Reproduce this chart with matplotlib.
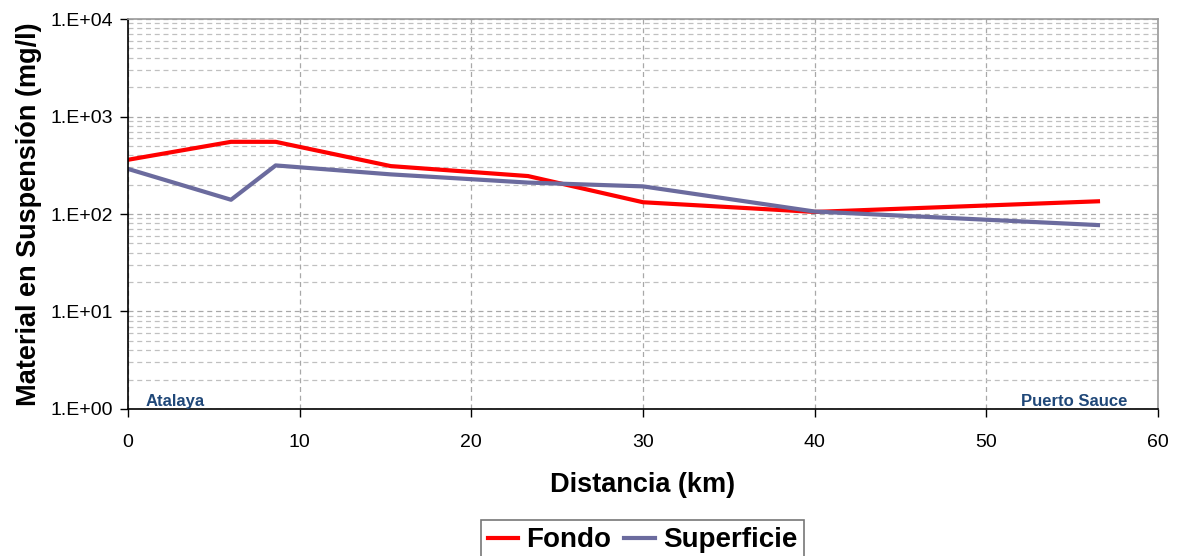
import matplotlib
matplotlib.use("Agg")
import matplotlib.pyplot as plt
from matplotlib.ticker import LogLocator

plt.rcParams['font.family'] = ['Liberation Sans', 'DejaVu Sans']

# distances along the river (km)
dist = [0, 6.0, 8.6, 15.3, 23.3, 30.0, 40.0, 56.5]
# suspended material (mg/l)
fondo = [360, 550, 550, 310, 245, 132, 105, 135]
superficie = [290, 140, 315, 255, 210, 192, 106, 77]

ytick_vals = [1, 10, 100, 1000, 10000]
ytick_labels = ['1.E+00', '1.E+01', '1.E+02', '1.E+03', '1.E+04']

fig = plt.figure(figsize=(11.8, 5.56), dpi=100)
ax = fig.add_axes([0.1085, 0.2644, 0.8729, 0.7014])

ax.plot(dist, fondo, color='#ff0000', lw=3, label='Fondo')
ax.plot(dist, superficie, color='#6b6b9e', lw=3, label='Superficie')

ax.set_yscale('log')
ax.set_ylim(1, 10000)
ax.set_xlim(0, 60)
ax.set_yticks(ytick_vals)
ax.set_yticklabels(ytick_labels)
ax.yaxis.set_minor_locator(LogLocator(base=10, subs=range(2, 10)))
ax.yaxis.set_minor_formatter(plt.NullFormatter())
ax.set_xticks(range(0, 61, 10))

ax.grid(True, which='major', axis='both', color='#a8a8a8', ls=(0, (4, 3)), lw=0.9)
ax.grid(True, which='minor', axis='y', color='#c0c0c0', ls=(0, (4, 3)), lw=0.9)
ax.tick_params(axis='y', which='minor', length=0)
ax.tick_params(axis='both', which='major', direction='out', length=6, width=1,
               labelsize=14, color='black')
ax.tick_params(axis='x', pad=12)
ax.tick_params(axis='y', pad=5)

for s in ['top', 'right']:
    ax.spines[s].set_color('#999999')
    ax.spines[s].set_linewidth(1.2)
for s in ['left', 'bottom']:
    ax.spines[s].set_color('black')
    ax.spines[s].set_linewidth(1.2)

ax.set_xlabel('Distancia (km)', fontsize=19.5, fontweight='bold', labelpad=15)
ax.set_ylabel('Material en Suspensión (mg/l)', fontsize=19.5, fontweight='bold', labelpad=6)

ax.text(1.0, 1.18, 'Atalaya', color='#1f4778', fontsize=12, fontweight='bold',
        va='center', ha='left')
ax.text(58.2, 1.18, 'Puerto Sauce', color='#1f4778', fontsize=12, fontweight='bold',
        va='center', ha='right')

leg = fig.legend(loc='upper center', bbox_to_anchor=(0.5445, 0.064), ncol=2,
                 frameon=True, fancybox=False, borderaxespad=0,
                 prop={'weight': 'bold', 'size': 20},
                 handlelength=1.1, handletextpad=0.3, columnspacing=0.45,
                 borderpad=0.25, edgecolor='#555555')
leg.get_frame().set_linewidth(1.2)

fig.savefig('out.png', dpi=100)
